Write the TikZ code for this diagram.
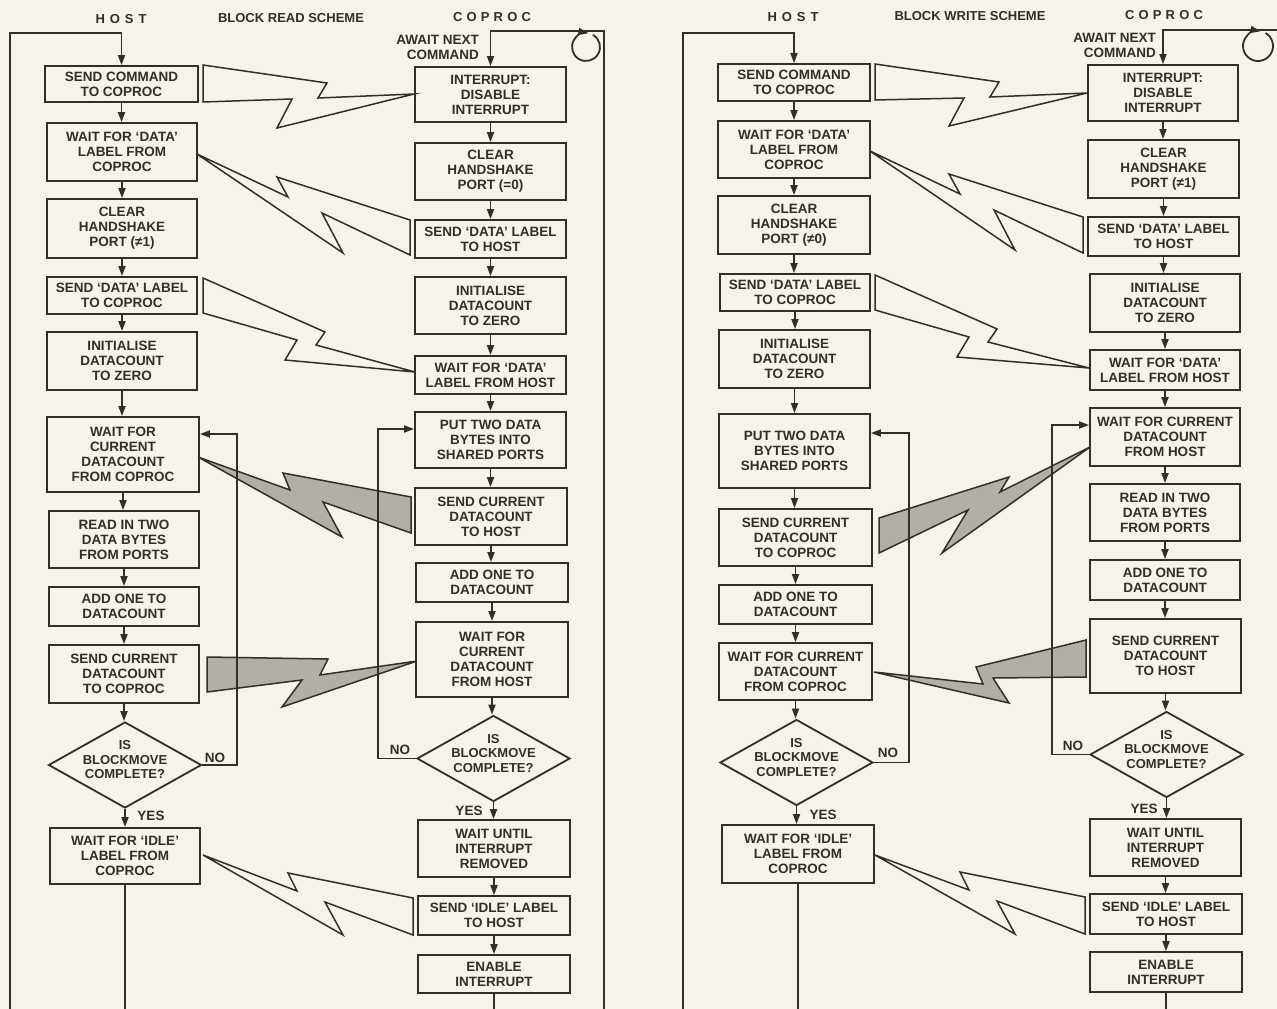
\documentclass[tikz,border=0pt]{standalone}
\usepackage{fontspec}
\setmainfont{Liberation Sans}
\usetikzlibrary{arrows.meta,shapes.geometric}
\definecolor{bgc}{RGB}{246,243,235}
\definecolor{ink}{RGB}{50,46,43}
\definecolor{shd}{RGB}{178,175,168}
\tikzset{
 ln/.style={draw=ink, line width=1.8pt},
 arr/.style={ln, -{Triangle[length=10pt,width=7pt]}},
 box/.style={draw=ink, line width=1.8pt, rectangle, inner sep=0pt, align=center,
   font=\fontsize{13.5}{15}\selectfont\bfseries, text=ink},
 dia/.style={draw=ink, line width=1.8pt, diamond, inner sep=0pt},
 txt/.style={align=center, inner sep=0pt, font=\fontsize{13.5}{15}\selectfont\bfseries, text=ink},
 dtxt/.style={align=center, inner sep=0pt, font=\fontsize{13}{14.5}\selectfont\bfseries, text=ink},
 hdr/.style={inner sep=0pt, font=\fontsize{13}{15}\selectfont\bfseries, text=ink},
 bolt/.style={draw=ink, line width=1.5pt, line join=miter},
 sbolt/.style={bolt, fill=shd},
}
\newcommand\mybox[6]{\node[box, minimum width=#4pt, minimum height=#5pt] (#1) at (#2,#3) {#6};}
\newcommand\mydia[4]{\node[dia, minimum width=153pt, minimum height=86pt] (#1) at (#2,#3) {};
  \node[dtxt] (#1t) at ([yshift=5pt]#1.center) {#4};}
\newcommand\va[2]{\draw[arr] (#1.south) -- (#1.south |- #2.north);}
\newcommand\mybolt[8]{\draw[#1] #2 -- #3 -- #4 -- #5 -- #6 -- #7 -- #8 -- cycle;}
\begin{document}
\begin{tikzpicture}[x=1pt,y=-1pt]
\fill[bgc] (0,0) rectangle (1277,1009);
\useasboundingbox (0,0) rectangle (1277,1009);

% ---------------- headers ----------------
\node[hdr] (lhost) at (121,19) {\addfontfeature{LetterSpace=38}HOST};
\node[hdr] (ltitle) at (291,18) {BLOCK READ SCHEME};
\node[hdr] (lcop) at (492,17) {\addfontfeature{LetterSpace=32}COPROC};
\node[hdr] (rhost) at (793,17) {\addfontfeature{LetterSpace=38}HOST};
\node[hdr] (rtitle) at (970,16) {BLOCK WRITE SCHEME};
\node[hdr] (rcop) at (1164,15) {\addfontfeature{LetterSpace=32}COPROC};

\node[txt, align=right, anchor=east] (lawait) at (479,47) {AWAIT NEXT\\COMMAND};
\node[txt, align=right, anchor=east] (rawait) at (1156,45) {AWAIT NEXT\\COMMAND};

% ---------------- left host ----------------
\mybox{h1}{121.5}{84}{153}{36}{SEND COMMAND\\TO COPROC}
\mybox{h2}{122}{152}{150}{58}{WAIT FOR ‘DATA’\\LABEL FROM\\COPROC}
\mybox{h3}{122}{228.5}{150}{59}{CLEAR\\HANDSHAKE\\PORT (≠1)}
\mybox{h4}{122}{295.5}{150}{37}{SEND ‘DATA’ LABEL\\TO COPROC}
\mybox{h5}{122}{361}{150}{58}{INITIALISE\\DATACOUNT\\TO ZERO}
\mybox{h6}{123}{454.5}{152}{75}{WAIT FOR\\CURRENT\\DATACOUNT\\FROM COPROC}
\mybox{h7}{124}{539.5}{150}{57}{READ IN TWO\\DATA BYTES\\FROM PORTS}
\mybox{h8}{124}{606.5}{150}{39}{ADD ONE TO\\DATACOUNT}
\mybox{h9}{124}{674}{150}{58}{SEND CURRENT\\DATACOUNT\\TO COPROC}
\mydia{hd}{125}{765}{IS\\BLOCKMOVE\\COMPLETE?}
\mybox{h11}{125}{856}{150}{56}{WAIT FOR ‘IDLE’\\LABEL FROM\\COPROC}

% ---------------- left coproc ----------------
\mybox{c1}{490.5}{94.5}{151}{55}{INTERRUPT:\\DISABLE\\INTERRUPT}
\mybox{c2}{490.5}{171.5}{151}{57}{CLEAR\\HANDSHAKE\\PORT (=0)}
\mybox{c3}{490.5}{239}{151}{38}{SEND ‘DATA’ LABEL\\TO HOST}
\mybox{c4}{490.5}{305.5}{151}{57}{INITIALISE\\DATACOUNT\\TO ZERO}
\mybox{c5}{490.5}{375}{151}{38}{WAIT FOR ‘DATA’\\LABEL FROM HOST}
\mybox{c6}{490.5}{440}{151}{56}{PUT TWO DATA\\BYTES INTO\\SHARED PORTS}
\mybox{c7}{491}{516.5}{152}{57}{SEND CURRENT\\DATACOUNT\\TO HOST}
\mybox{c8}{492}{582.5}{152}{39}{ADD ONE TO\\DATACOUNT}
\mybox{c9}{492}{659.5}{152}{75}{WAIT FOR\\CURRENT\\DATACOUNT\\FROM HOST}
\mydia{cd}{493.5}{758.5}{IS\\BLOCKMOVE\\COMPLETE?}
\mybox{c11}{494}{848.5}{152}{57}{WAIT UNTIL\\INTERRUPT\\REMOVED}
\mybox{c12}{494}{915.5}{152}{39}{SEND ‘IDLE’ LABEL\\TO HOST}
\mybox{c13}{494}{974}{152}{38}{ENABLE\\INTERRUPT}

% ---------------- right host ----------------
\mybox{H1}{794}{82.5}{152}{37}{SEND COMMAND\\TO COPROC}
\mybox{H2}{794}{149.5}{152}{57}{WAIT FOR ‘DATA’\\LABEL FROM\\COPROC}
\mybox{H3}{794}{225}{152}{58}{CLEAR\\HANDSHAKE\\PORT (≠0)}
\mybox{H4}{795}{292.5}{150}{37}{SEND ‘DATA’ LABEL\\TO COPROC}
\mybox{H5}{794.5}{359}{151}{58}{INITIALISE\\DATACOUNT\\TO ZERO}
\mybox{H6}{794.5}{451}{151}{74}{PUT TWO DATA\\BYTES INTO\\SHARED PORTS}
\mybox{H7}{795.5}{537.5}{153}{57}{SEND CURRENT\\DATACOUNT\\TO COPROC}
\mybox{H8}{795.5}{604.5}{153}{39}{ADD ONE TO\\DATACOUNT}
\mybox{H9}{795.5}{671.5}{153}{57}{WAIT FOR CURRENT\\DATACOUNT\\FROM COPROC}
\mydia{Hd}{796.5}{762.5}{IS\\BLOCKMOVE\\COMPLETE?}
\mybox{H11}{798}{854}{152}{58}{WAIT FOR ‘IDLE’\\LABEL FROM\\COPROC}

% ---------------- right coproc ----------------
\mybox{C1}{1163}{93}{150}{56}{INTERRUPT:\\DISABLE\\INTERRUPT}
\mybox{C2}{1163.5}{169}{151}{58}{CLEAR\\HANDSHAKE\\PORT (≠1)}
\mybox{C3}{1163.5}{236.5}{151}{39}{SEND ‘DATA’ LABEL\\TO HOST}
\mybox{C4}{1165}{303}{150}{58}{INITIALISE\\DATACOUNT\\TO ZERO}
\mybox{C5}{1165}{370}{150}{40}{WAIT FOR ‘DATA’\\LABEL FROM HOST}
\mybox{C6}{1165}{437}{150}{58}{WAIT FOR CURRENT\\DATACOUNT\\FROM HOST}
\mybox{C7}{1165}{512.5}{150}{57}{READ IN TWO\\DATA BYTES\\FROM PORTS}
\mybox{C8}{1165}{580}{150}{40}{ADD ONE TO\\DATACOUNT}
\mybox{C9}{1165.5}{656}{151}{74}{SEND CURRENT\\DATACOUNT\\TO HOST}
\mydia{Cd}{1166.5}{754.5}{IS\\BLOCKMOVE\\COMPLETE?}
\mybox{C11}{1165.5}{847.5}{151}{57}{WAIT UNTIL\\INTERRUPT\\REMOVED}
\mybox{C12}{1166}{914}{152}{40}{SEND ‘IDLE’ LABEL\\TO HOST}
\mybox{C13}{1166}{972}{152}{40}{ENABLE\\INTERRUPT}

% ---------------- lightning bolts ----------------
\mybolt{bolt}{(203,65)}{(327,83)}{(318,98)}{(414,94)}{(277,128)}{(292,99)}{(203,102)}
\mybolt{bolt}{(197,154)}{(288,197)}{(277,177)}{(410,220)}{(410,255)}{(322,213)}{(343,253)}
\mybolt{bolt}{(203,278)}{(325,332)}{(316,345)}{(415,372)}{(285,360)}{(297,340)}{(203,313)}
\mybolt{sbolt}{(198,457)}{(290,490)}{(283,473)}{(411,497)}{(411,533)}{(323,502)}{(342,537)}
\mybolt{sbolt}{(207,657)}{(328,659)}{(320,675)}{(417,661)}{(282,707)}{(302,680)}{(207,692)}
\mybolt{bolt}{(203,855)}{(297,891)}{(288,873)}{(413,898)}{(413,935)}{(325,902)}{(343,935)}

\mybolt{bolt}{(875,64)}{(999,82)}{(990,97)}{(1087,93)}{(949,126)}{(964,98)}{(875,100)}
\mybolt{bolt}{(870,151)}{(960,194)}{(949,174)}{(1083,217)}{(1083,253)}{(994,210)}{(1015,250)}
\mybolt{bolt}{(875,275)}{(997,329)}{(988,342)}{(1089,368)}{(957,357)}{(969,337)}{(875,310)}
\mybolt{sbolt}{(879,518)}{(1009,477)}{(1000,492)}{(1090,447)}{(942,553)}{(968,510)}{(879,553)}
\mybolt{sbolt}{(874,672)}{(983,684)}{(976,667)}{(1086,640)}{(1086,677)}{(993,678)}{(1009,703)}
\mybolt{bolt}{(875,855)}{(969,890)}{(960,872)}{(1085,897)}{(1085,934)}{(997,901)}{(1015,934)}

% ---------------- flow arrows ----------------
\foreach \a/\b in {h1/h2,h2/h3,h3/h4,h4/h5,h5/h6,h6/h7,h7/h8,h8/h9,h9/hd,hd/h11,
  c1/c2,c2/c3,c3/c4,c4/c5,c5/c6,c6/c7,c7/c8,c8/c9,c9/cd,cd/c11,c11/c12,c12/c13,
  H1/H2,H2/H3,H3/H4,H4/H5,H5/H6,H6/H7,H7/H8,H8/H9,H9/Hd,Hd/H11,
  C1/C2,C2/C3,C3/C4,C4/C5,C5/C6,C6/C7,C7/C8,C8/C9,C9/Cd,Cd/C11,C11/C12,C12/C13}
  {\va{\a}{\b}}

% outer loops
\coordinate (lhb) at (10,1040); \coordinate (lht) at (10,33);
\draw[arr] (h11.south) |- (lhb) -- (lht) -| (h1.north);
\coordinate (lcb) at (604,1040); \coordinate (lct) at (604,31);
\draw[arr] (c13.south) |- (lcb) -- (lct) -| (c1.north);
\coordinate (rhb) at (683,1040); \coordinate (rht) at (683,33);
\draw[arr] (H11.south) |- (rhb) -- (rht) -| (H1.north);
\coordinate (rcb) at (1295,1040); \coordinate (rct) at (1295,30);
\draw[arr] (C13.south) |- (rcb) -- (rct) -| (C1.north);

% NO loops
\coordinate (hno) at (237,434);
\draw[arr] (hd.east) -| (hno) -- (hno -| h6.east);
\coordinate (cno) at (378,429);
\draw[arr] (cd.west) -| (cno) -- (cno -| c6.west);
\coordinate (Hno) at (909,433);
\draw[arr] (Hd.east) -| (Hno) -- (Hno -| H6.east);
\coordinate (Cno) at (1052,425);
\draw[arr] (Cd.west) -| (Cno) -- (Cno -| C6.west);

% waiting circles
\draw[arr] (586,47) ++(-60:14) arc[start angle=-60, end angle=280, radius=14];
\draw[arr] (1258,46) ++(-60:15) arc[start angle=-60, end angle=280, radius=15];

% YES / NO labels
\node[txt] (lno1) at (215,758) {NO};
\node[txt] (lyes1) at (151,816) {YES};
\node[txt] (lno2) at (400,750) {NO};
\node[txt] (lyes2) at (469,811) {YES};
\node[txt] (rno1) at (888,753) {NO};
\node[txt] (ryes1) at (823,815) {YES};
\node[txt] (rno2) at (1073,746) {NO};
\node[txt] (ryes2) at (1144,809) {YES};
\end{tikzpicture}
\end{document}
